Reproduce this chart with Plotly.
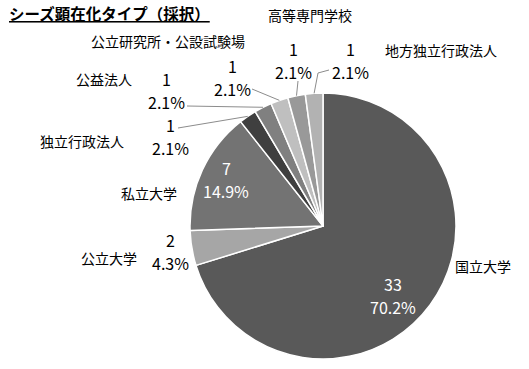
import math
import plotly.graph_objects as go

title = "シーズ顕在化タイプ（採択）"
categories = ["国立大学", "公立大学", "私立大学", "独立行政法人", "公益法人",
              "公立研究所・公設試験場", "高等専門学校", "地方独立行政法人"]
counts = [33, 2, 7, 1, 1, 1, 1, 1]
colors = ["#595959", "#a6a6a6", "#737373", "#3f3f3f", "#808080",
          "#bfbfbf", "#999999", "#b2b2b2"]

W, H = 529, 369
CX, CY, R = 323, 226, 133
FONT = "Noto Sans CJK JP"


def px(x):
    return x / W


def py(y):
    return 1 - y / H


total = sum(counts)
pcts = [f"{c / total * 100:.1f}%" for c in counts]

# layout positions (pixels): name label, value label centre, leader start
name_pos = {
    "国立大学": (483, 266), "公立大学": (109, 258), "私立大学": (149, 193),
    "独立行政法人": (82, 141), "公益法人": (104, 79),
    "公立研究所・公設試験場": (168, 41), "高等専門学校": (310, 15),
    "地方独立行政法人": (441, 50),
}
value_pos = {
    "国立大学": (393, 295), "公立大学": (170, 251), "私立大学": (226, 179),
    "独立行政法人": (170, 136), "公益法人": (166, 90),
    "公立研究所・公設試験場": (232, 77), "高等専門学校": (293, 60),
    "地方独立行政法人": (350, 60),
}
leader_start = {
    "独立行政法人": [(178, 128)],
    "公益法人": [(187, 106)],
    "公立研究所・公設試験場": [(252, 89)],
    "高等専門学校": [(298, 81)],
    "地方独立行政法人": [(329, 70), (318, 73)],
}
inside = {"国立大学", "私立大学"}

fig = go.Figure(go.Pie(
    labels=categories, values=counts, sort=False, direction="clockwise",
    rotation=0, textinfo="none", hoverinfo="label+value+percent",
    marker=dict(colors=colors, line=dict(color="white", width=1.5)),
    domain=dict(x=[px(CX - R), px(CX + R)], y=[py(CY + R), py(CY - R)]),
    showlegend=False,
))

annotations = [dict(
    x=px(7), y=py(13), xref="paper", yref="paper", xanchor="left", yanchor="middle",
    text=f"<b><u>{title}</u></b>", showarrow=False,
    font=dict(family=FONT, size=15.5, color="#000000"))]
shapes = []


def label(x, y, text, size, color):
    return dict(x=px(x), y=py(y), xref="paper", yref="paper",
                xanchor="center", yanchor="middle", text=text, showarrow=False,
                font=dict(family=FONT, size=size, color=color))


cum = 0
for cat, c, p in zip(categories, counts, pcts):
    mid = (cum + c / 2) / total * 360
    cum += c
    nx, ny = name_pos[cat]
    annotations.append(label(nx, ny, cat, 14, "#000000"))
    vx, vy = value_pos[cat]
    col = "#ffffff" if cat in inside else "#000000"
    annotations.append(label(vx, vy - 11.5, str(c), 16, col))
    annotations.append(label(vx, vy + 11.5, p, 16, col))
    if cat in leader_start:
        th = math.radians(mid)
        ex = CX + R * math.sin(th)
        ey = CY - R * math.cos(th)
        pts = leader_start[cat] + [(ex, ey)]
        for (x0, y0), (x1, y1) in zip(pts[:-1], pts[1:]):
            shapes.append(dict(type="line", xref="paper", yref="paper",
                               x0=px(x0), y0=py(y0), x1=px(x1), y1=py(y1),
                               line=dict(color="#8c8c8c", width=1)))

fig.update_layout(
    width=W, height=H, margin=dict(l=0, r=0, t=0, b=0),
    paper_bgcolor="white", plot_bgcolor="white",
    annotations=annotations, shapes=shapes,
)
fig.write_html("out.html", config={"displayModeBar": False},
               post_script="document.body.style.margin='0px';")
